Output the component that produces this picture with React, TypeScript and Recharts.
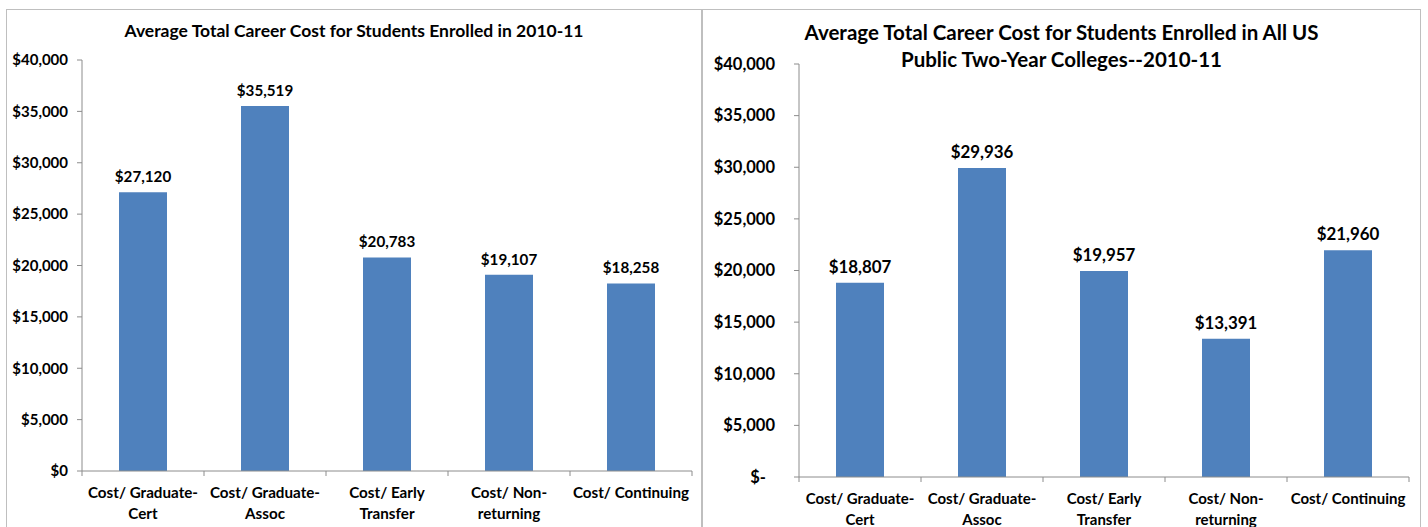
import { BarChart, Bar, XAxis, YAxis, LabelList } from 'recharts'

const categories = [
  'Cost/ Graduate-Cert',
  'Cost/ Graduate-Assoc',
  'Cost/ Early Transfer',
  'Cost/ Non-returning',
  'Cost/ Continuing',
]
// how each category label wraps on the axis
const categoryLines = [
  ['Cost/ Graduate-', 'Cert'],
  ['Cost/ Graduate-', 'Assoc'],
  ['Cost/ Early', 'Transfer'],
  ['Cost/ Non-', 'returning'],
  ['Cost/ Continuing'],
]
const enrolledCost = [27120, 35519, 20783, 19107, 18258]
const nationalCost = [18807, 29936, 19957, 13391, 21960]
const yTicks = [0, 5000, 10000, 15000, 20000, 25000, 30000, 35000, 40000]

const FONT = 'Lato, "Open Sans", sans-serif'
const BLUE = '#4F81BD'
const AXIS = '#8c8c8c'
const BORDER = '#bfbfbf'

const leftData = categories.map((name, i) => ({ name, cost: enrolledCost[i] }))
const rightData = categories.map((name, i) => ({ name, cost: nationalCost[i] }))

const money = (v: number) => '$' + v.toLocaleString('en-US')

function CategoryTick(props: any) {
  const { x, y, payload, index, band, fontSize, lineGap, firstDy } = props
  const idx = categories.indexOf(payload.value)
  const lines = categoryLines[idx] || [payload.value]
  return (
    <g>
      <line x1={x - band / 2} x2={x - band / 2} y1={y} y2={y + 5} stroke={AXIS} />
      {index === categories.length - 1 && (
        <line x1={x + band / 2} x2={x + band / 2} y1={y} y2={y + 5} stroke={AXIS} />
      )}
      <text
        x={x}
        y={y + firstDy}
        textAnchor="middle"
        fontFamily={FONT}
        fontWeight="bold"
        fontSize={fontSize}
        fill="#000"
      >
        {lines.map((l: string, k: number) => (
          <tspan key={k} x={x} dy={k === 0 ? 0 : lineGap}>
            {l}
          </tspan>
        ))}
      </text>
    </g>
  )
}

function MoneyTick(props: any) {
  const { x, y, payload, fontSize, dash } = props
  const zero = dash && payload.value === 0
  return (
    <text
      x={zero ? x - 9 : x}
      y={y}
      dy="0.35em"
      textAnchor="end"
      fontFamily={FONT}
      fontWeight="bold"
      fontSize={fontSize}
      fill="#000"
    >
      {zero ? '$-' : money(payload.value)}
    </text>
  )
}

export default function App() {
  return (
    <div style={{ position: 'absolute', left: 0, top: 0, width: 1428, height: 527, background: '#fff', overflow: 'hidden' }}>
      {/* left panel */}
      <div style={{ position: 'absolute', left: 6, top: 9, width: 696, height: 530, border: `1px solid ${BORDER}`, boxSizing: 'border-box' }} />
      <div
        style={{
          position: 'absolute', left: 6, top: 20, width: 696, textAlign: 'center',
          fontFamily: FONT, fontWeight: 'bold', fontSize: 17.5, lineHeight: '22px', color: '#000',
        }}
      >
        Average Total Career Cost for Students Enrolled in 2010-11
      </div>
      <div style={{ position: 'absolute', left: 6, top: 9 }}>
        <BarChart width={697} height={518} data={leftData} margin={{ top: 51, right: 11, left: 0, bottom: 0 }}>
          <XAxis
            dataKey="name"
            height={56}
            stroke={AXIS}
            tickLine={false}
            tickSize={0}
            tickMargin={0}
            interval={0}
            tick={<CategoryTick band={122} fontSize={15.2} lineGap={21} firstDy={27} />}
          />
          <YAxis
            width={76}
            domain={[0, 40000]}
            ticks={yTicks}
            stroke={AXIS}
            tickSize={5}
            tickMargin={9}
            tick={<MoneyTick fontSize={15} />}
          />
          <Bar dataKey="cost" fill={BLUE} barSize={48} isAnimationActive={false}>
            <LabelList
              dataKey="cost"
              position="top"
              offset={10}
              formatter={(v: any) => money(Number(v))}
              style={{ fontFamily: FONT, fontWeight: 'bold', fontSize: 15.2, fill: '#000' }}
            />
          </Bar>
        </BarChart>
      </div>

      {/* right panel */}
      <div style={{ position: 'absolute', left: 702, top: 9, width: 719, height: 530, border: `1px solid ${BORDER}`, boxSizing: 'border-box' }} />
      <div
        style={{
          position: 'absolute', left: 702, top: 19, width: 719, textAlign: 'center',
          fontFamily: FONT, fontWeight: 'bold', fontSize: 20.5, lineHeight: '27px', color: '#000',
        }}
      >
        Average Total Career Cost for Students Enrolled in All US
        <br />
        Public Two-Year Colleges--2010-11
      </div>
      <div style={{ position: 'absolute', left: 703, top: 9 }}>
        <BarChart width={718} height={518} data={rightData} margin={{ top: 55, right: 12, left: 0, bottom: 0 }}>
          <XAxis
            dataKey="name"
            height={50}
            stroke={AXIS}
            tickLine={false}
            tickSize={0}
            tickMargin={0}
            interval={0}
            tick={<CategoryTick band={122} fontSize={15} lineGap={21} firstDy={27} />}
          />
          <YAxis
            width={96}
            domain={[0, 40000]}
            ticks={yTicks}
            stroke={AXIS}
            tickSize={5}
            tickMargin={19}
            tick={<MoneyTick fontSize={16.5} dash />}
          />
          <Bar dataKey="cost" fill={BLUE} barSize={48} isAnimationActive={false}>
            <LabelList
              dataKey="cost"
              position="top"
              offset={10}
              formatter={(v: any) => money(Number(v))}
              style={{ fontFamily: FONT, fontWeight: 'bold', fontSize: 16.9, fill: '#000' }}
            />
          </Bar>
        </BarChart>
      </div>
    </div>
  )
}
